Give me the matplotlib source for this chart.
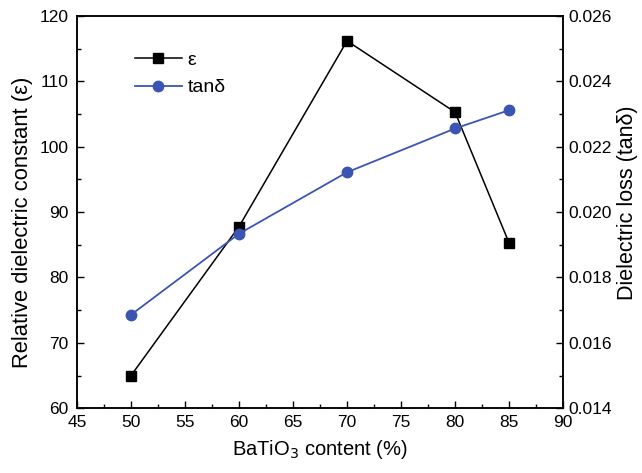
import numpy as np
import matplotlib.pyplot as plt
from matplotlib.ticker import MultipleLocator

plt.rcParams['font.family'] = ['Liberation Sans', 'DejaVu Sans']

content = [50, 60, 70, 80, 85]
epsilon = [65.0, 87.8, 116.2, 105.3, 85.3]
tan_delta = [0.01686, 0.01934, 0.02122, 0.02256, 0.02312]

blue = "#3b55b3"

fig = plt.figure(figsize=(6.42, 4.73), dpi=100)
ax = fig.add_axes([0.12, 0.137, 0.757, 0.829])
ax2 = ax.twinx()

l1, = ax.plot(content, epsilon, color="black", linewidth=1.1, marker="s",
              markersize=6.5, label="ε")
l2, = ax2.plot(content, tan_delta, color=blue, linewidth=1.3, marker="o",
               markersize=7.5, label="tanδ")

ax.set_xlim(45, 90)
ax.set_ylim(60, 120)
ax2.set_ylim(0.014, 0.026)
ax.xaxis.set_major_locator(MultipleLocator(5))
ax.xaxis.set_minor_locator(MultipleLocator(2.5))
ax.yaxis.set_major_locator(MultipleLocator(10))
ax.yaxis.set_minor_locator(MultipleLocator(5))
ax2.yaxis.set_major_locator(MultipleLocator(0.002))
ax2.yaxis.set_minor_locator(MultipleLocator(0.001))
ax2.yaxis.set_major_formatter(plt.FormatStrFormatter("%.3f"))

ax.tick_params(axis="x", which="both", direction="in", top=False, labelsize=12.5, pad=5)
ax.tick_params(axis="y", which="both", direction="in", right=False, labelsize=12.5, pad=6)
ax2.tick_params(axis="y", which="both", direction="in", labelsize=12.5, pad=4)
for a in (ax, ax2):
    a.tick_params(which="major", length=5, width=1)
    a.tick_params(which="minor", length=3, width=1)
    for s in a.spines.values():
        s.set_linewidth(1.1)

ax.set_xlabel("BaTiO$_3$ content (%)", fontsize=14.5, labelpad=6)
ax.set_ylabel("Relative dielectric constant (ε)", fontsize=15.8)
ax2.set_ylabel("Dielectric loss (tanδ)", fontsize=15.5)
ax.yaxis.set_label_coords(-0.09, 0.474)
ax2.yaxis.set_label_coords(1.112, 0.523)

ax.legend(handles=[l1, l2], loc="upper left", bbox_to_anchor=(0.119, 0.910),
          borderaxespad=0, borderpad=0, frameon=False, fontsize=14,
          handlelength=2.4, handletextpad=0.3, labelspacing=0.5)

fig.savefig("out.png", dpi=100)
